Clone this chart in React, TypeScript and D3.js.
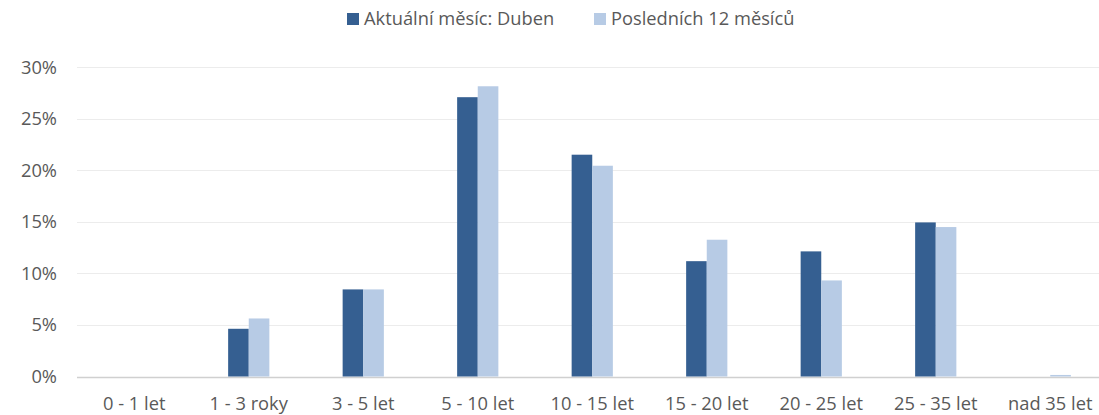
import { useRef, useEffect } from 'react';
import * as d3 from 'd3';

const categories = ['0 - 1 let', '1 - 3 roky', '3 - 5 let', '5 - 10 let', '10 - 15 let', '15 - 20 let', '20 - 25 let', '25 - 35 let', 'nad 35 let'];
const seriesNames = ['Aktuální měsíc: Duben', 'Posledních 12 měsíců'];
const currentMonth = [0, 4.63, 8.45, 27.1, 21.52, 11.19, 12.14, 14.95, 0];
const last12Months = [0, 5.63, 8.45, 28.16, 20.45, 13.27, 9.32, 14.5, 0.15];
const yTicks = [0, 5, 10, 15, 20, 25, 30];
const colors = ['#355f91', '#b7cbe5'];

const W = 1099;
const H = 415;
const FONT = '"Open Sans", Lato, sans-serif';
const FS = 18.3;

export default function App() {
  const svgRef = useRef<SVGSVGElement>(null);

  useEffect(() => {
    const svg = d3.select(svgRef.current);
    svg.selectAll('*').remove();
    svg.attr('width', W).attr('height', H).style('font-family', FONT);

    const left = 77;
    const right = 1107.5;
    const y = d3.scaleLinear().domain([0, 30]).range([376.5, 67.3]);
    const x0 = d3.scaleBand().domain(categories).range([left, right]).paddingInner(0.64).paddingOuter(0.32);
    const x1 = d3.scaleBand().domain(seriesNames).range([0, x0.bandwidth()]);

    // grid
    svg.append('g')
      .selectAll('line')
      .data(yTicks)
      .join('line')
      .attr('x1', left)
      .attr('x2', right)
      .attr('y1', d => Math.round(y(d)) + 0.5)
      .attr('y2', d => Math.round(y(d)) + 0.5)
      .attr('stroke', d => (d === 0 ? '#d0d0d0' : '#ececec'))
      .attr('stroke-width', d => (d === 0 ? 1.3 : 1));

    svg.append('g')
      .selectAll('text')
      .data(yTicks)
      .join('text')
      .attr('x', 57)
      .attr('y', d => y(d))
      .attr('dy', '0.35em')
      .attr('text-anchor', 'end')
      .attr('font-size', FS)
      .attr('fill', '#595959')
      .text(d => `${d}%`);

    const series = [currentMonth, last12Months];
    series.forEach((vals, si) => {
      svg.append('g')
        .selectAll('rect')
        .data(vals)
        .join('rect')
        .attr('x', (d, i) => (x0(categories[i]) ?? 0) + (x1(seriesNames[si]) ?? 0))
        .attr('width', x1.bandwidth())
        .attr('y', d => y(d))
        .attr('height', d => y(0) - y(d))
        .attr('fill', colors[si]);
    });

    svg.append('g')
      .selectAll('text')
      .data(categories)
      .join('text')
      .attr('x', d => (x0(d) ?? 0) + x0.bandwidth() / 2)
      .attr('y', 410)
      .attr('text-anchor', 'middle')
      .attr('font-size', FS)
      .attr('fill', '#595959')
      .text(d => d);

    // legend
    const legendX = [347, 594];
    const lg = svg.append('g');
    seriesNames.forEach((name, i) => {
      lg.append('rect')
        .attr('x', legendX[i])
        .attr('y', 13)
        .attr('width', 12)
        .attr('height', 12)
        .attr('fill', colors[i]);
      lg.append('text')
        .attr('x', legendX[i] + 17)
        .attr('y', 19)
        .attr('dy', '0.35em')
        .attr('font-size', FS)
        .attr('fill', '#595959')
        .text(name);
    });
  }, []);

  return (
    <div style={{ position: 'absolute', left: 0, top: 0 }}>
      <svg ref={svgRef} style={{ display: 'block' }} />
    </div>
  );
}
